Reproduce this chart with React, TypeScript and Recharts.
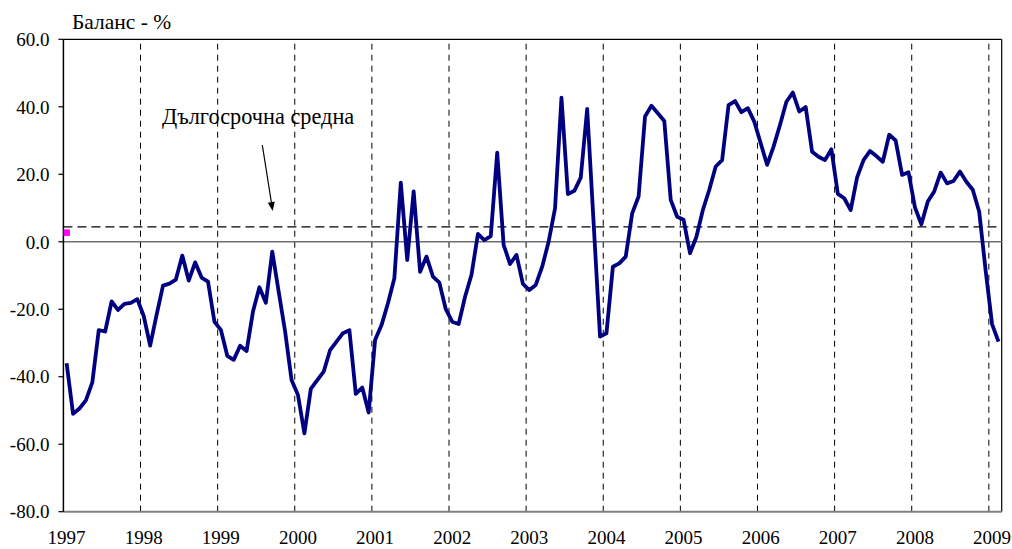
import React from 'react';
import { ComposedChart, Line, Scatter, XAxis, YAxis, ReferenceLine } from 'recharts';

const YEARS = ['1997','1998','1999','2000','2001','2002','2003','2004','2005','2006','2007','2008','2009'];

const Y1997 = [-36.0, -51.0, -49.4, -47.0, -41.7, -26.2, -26.6, -17.7, -20.2, -18.4, -18.1, -17.0];
const Y1998 = [-22.0, -30.8, -21.7, -13.0, -12.4, -11.2, -4.1, -11.5, -6.1, -10.6, -11.8, -23.7];
const Y1999 = [-26.1, -33.8, -35.0, -30.8, -32.4, -20.7, -13.5, -18.1, -2.9, -14.8, -26.6, -41.0];
const Y2000 = [-45.4, -56.8, -43.6, -41.0, -38.5, -32.1, -29.6, -27.1, -26.2, -45.1, -43.2, -50.6];
const Y2001 = [-29.1, -24.7, -18.2, -10.8, 17.5, -5.4, 14.9, -8.9, -4.4, -10.3, -12.1, -20.0];
const Y2002 = [-23.7, -24.4, -16.3, -9.8, 2.3, 0.5, 1.7, 26.4, -0.9, -6.6, -3.9, -12.5];
const Y2003 = [-14.3, -12.8, -7.4, 0.0, 9.9, 42.7, 14.1, 15.1, 19.0, 39.4, 5.7, -28.1];
const Y2004 = [-27.1, -7.4, -6.4, -4.4, 8.4, 13.4, 37.1, 40.3, 38.1, 35.8, 12.4, 7.4];
const Y2005 = [6.5, -3.4, 1.5, 9.4, 15.4, 22.3, 24.2, 40.5, 41.7, 38.4, 39.6, 35.6];
const Y2006 = [29.2, 22.8, 28.2, 34.6, 41.5, 44.2, 38.6, 39.9, 26.7, 25.2, 24.2, 27.4];
const Y2007 = [14.2, 12.9, 9.4, 19.1, 24.2, 26.9, 25.4, 23.7, 31.7, 30.0, 19.8, 20.6];
const Y2008 = [10.2, 5.2, 11.9, 14.9, 20.5, 17.3, 18.0, 20.8, 17.8, 15.4, 8.9, -8.5];
const Y2009 = [-24.4, -29.6];

const LONG_TERM_AVERAGE = 4.4;
const MARKER_VALUE = [2.7];
const Y_TICKS = [-80, -60, -40, -20, 0, 20, 40, 60];

const SERIES = [Y1997, Y1998, Y1999, Y2000, Y2001, Y2002, Y2003, Y2004, Y2005, Y2006, Y2007, Y2008, Y2009];
const VALUES: number[] = SERIES.flat();
const N = VALUES.length;

const data = VALUES.map((v, i) => ({
  x: i + 0.5,
  month: `${YEARS[Math.floor(i / 12)]}-${String((i % 12) + 1).padStart(2, '0')}`,
  v,
}));
const markerData = MARKER_VALUE.map((v, i) => ({ x: i + 0.5, v }));
const xTicks = YEARS.map((_, k) => k * 12 + 0.5);
const gridXs = YEARS.map((_, k) => k * 12).filter((x) => x > 0);

const FONT = "'Liberation Serif', 'Times New Roman', serif";

const SquareShape = (props: any) => {
  const { cx, cy } = props;
  if (cx == null || cy == null) return null;
  return <rect x={cx - 3.3} y={cy - 3.3} width={6.6} height={6.6} fill="#FF00FF" />;
};

export default function App() {
  const tip = { x: 272.7, y: 211 };
  return (
    <div style={{ position: 'absolute', left: 0, top: 0, width: 1012, height: 549, background: '#fff', fontFamily: FONT }}>
      <ComposedChart
        width={1012}
        height={549}
        data={data}
        margin={{ top: 39.3, right: 10.3, bottom: 0, left: 0 }}
        style={{ fontFamily: FONT }}
      >
        <XAxis
          type="number"
          dataKey="x"
          domain={[0, N]}
          ticks={xTicks}
          tickFormatter={(v: number) => YEARS[Math.round((v - 0.5) / 12)]}
          tickLine={false}
          tickSize={0}
          tickMargin={19}
          height={37.3}
          axisLine={{ stroke: '#808080', strokeWidth: 2 }}
          tick={{ fill: '#000', fontSize: 19, fontFamily: FONT, style: { fontFamily: FONT } }}
          interval={0}
          allowDataOverflow
        />
        <YAxis
          type="number"
          dataKey="v"
          domain={[-80, 60]}
          ticks={Y_TICKS}
          tickFormatter={(v: number) => v.toFixed(1)}
          width={63.4}
          tickSize={5}
          tickMargin={9}
          axisLine={{ stroke: '#000', strokeWidth: 1.5 }}
          tickLine={{ stroke: '#000', strokeWidth: 1.2 }}
          tick={{ fill: '#000', fontSize: 19, fontFamily: FONT, style: { fontFamily: FONT } }}
          interval={0}
          allowDataOverflow
        />
        {gridXs.map((gx) => (
          <ReferenceLine key={gx} x={gx} stroke="#000" strokeWidth={1} strokeDasharray="6 5" />
        ))}
        <ReferenceLine y={60} stroke="#000" strokeWidth={1.2} />
        <ReferenceLine x={N} stroke="#000" strokeWidth={1.2} />
        <ReferenceLine y={0} stroke="#6e6e6e" strokeWidth={1.4} />
        <ReferenceLine y={LONG_TERM_AVERAGE} stroke="#000" strokeWidth={1.4} strokeDasharray="9 5" />
        <Line
          type="linear"
          dataKey="v"
          stroke="#000080"
          strokeWidth={3.8}
          dot={false}
          strokeLinejoin="round"
          isAnimationActive={false}
        />
        <Scatter data={markerData} dataKey="v" shape={SquareShape} isAnimationActive={false} />
      </ComposedChart>
      <svg
        width={1012}
        height={549}
        style={{ position: 'absolute', left: 0, top: 0, pointerEvents: 'none', fontFamily: FONT }}
      >
        <text x={72} y={28.5} fontSize={21.5} fill="#000">Баланс - %</text>
        <text x={162} y={123.5} fontSize={22.3} fill="#000">Дългосрочна средна</text>
        <line x1={262.3} y1={145} x2={271.4} y2={202.5} stroke="#000" strokeWidth={1.2} />
        <polygon
          points={`${tip.x},${tip.y} ${tip.x - 1.4 + 3.45},${tip.y - 8.9 - 0.55} ${tip.x - 1.4 - 3.45},${tip.y - 8.9 + 0.55}`}
          fill="#000"
        />
      </svg>
    </div>
  );
}
